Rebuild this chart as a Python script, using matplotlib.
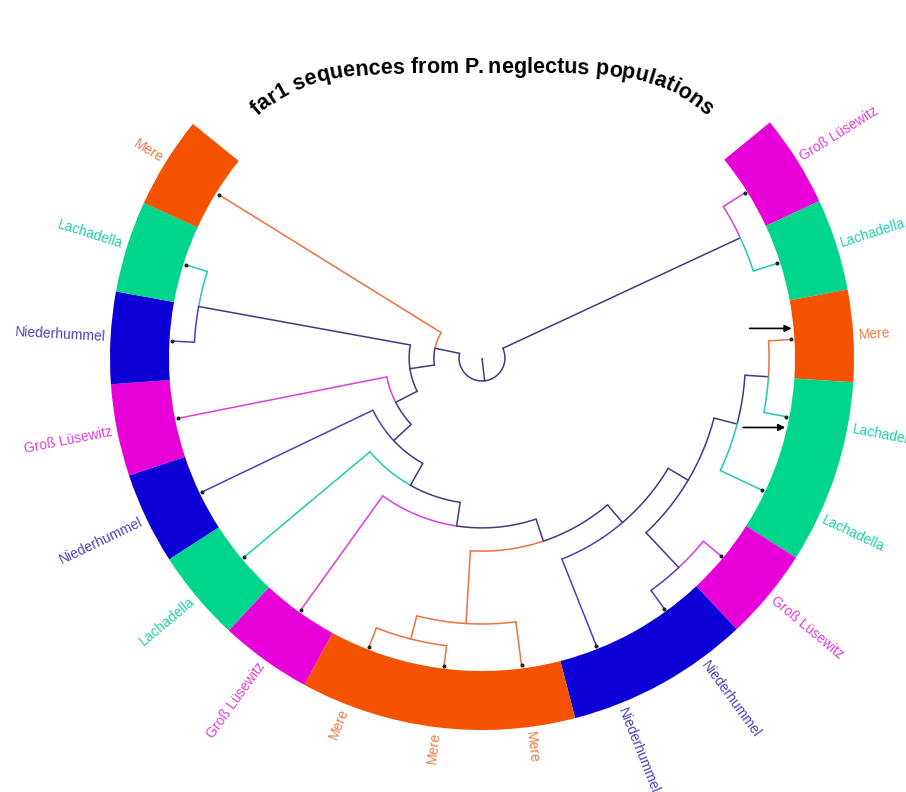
import numpy as np
import matplotlib
matplotlib.use("Agg")
import matplotlib.pyplot as plt
from matplotlib.patches import Wedge

# 樹のデータ
title = "far1 sequences from P. neglectus populations"

leaf_groups = ["Groß Lüsewitz", "Lachadella", "Mere", "Lachadella", "Lachadella",
               "Groß Lüsewitz", "Niederhummel", "Niederhummel", "Mere", "Mere",
               "Mere", "Groß Lüsewitz", "Lachadella", "Niederhummel", "Groß Lüsewitz",
               "Niederhummel", "Lachadella", "Mere"]

# node -> (children, height as fraction of tip height); ints are leaf indices
nodes = {
    "root": (["A", "B"], 0.074),
    "A": ([0, 1], 0.919),
    "B": ([17, "C"], 0.155),
    "C": (["C1", "C2"], 0.235),
    "C1": ([16, 15], 0.929),
    "C2": ([14, "C3"], 0.313),
    "C3": ([13, "C4"], 0.390),
    "C4": ([12, "C5"], 0.471),
    "C5": ([11, "C6"], 0.548),
    "C6": (["O2", "N1"], 0.623),
    "O2": (["O1", 8], 0.858),
    "O1": ([10, 9], 0.935),
    "N1": (["N2", 7], 0.698),
    "N2": (["N4", "N3"], 0.773),
    "N3": ([5, 6], 0.927),
    "N4": (["N5", 4], 0.850),
    "N5": ([2, 3], 0.926),
}
marked_leaves = [2, 3]

ring_colors = {"Mere": "#f55200", "Lachadella": "#00d68b",
               "Niederhummel": "#0c00d6", "Groß Lüsewitz": "#e800d8"}
label_colors = {"Mere": "#f07a45", "Lachadella": "#1fcfa8",
                "Niederhummel": "#4b44b8", "Groß Lüsewitz": "#e040d8"}
edge_colors = {"Mere": "#ef7040", "Lachadella": "#20cbb0",
               "Niederhummel": "#4b3fbf", "Groß Lüsewitz": "#e03ce0"}
navy = "#3d3d7d"

# レイアウト (px 単位)
W, H = 906, 792
CX, CY = 482, 358
R_TIP, R_IN, R_OUT, R_LAB = 310, 313, 372, 377
THETA0, STEP = 39.3, 14.35


def ang(y):
    return THETA0 - (y + 0.5) * STEP


def ypos(n):
    if isinstance(n, int):
        return n
    return np.mean([ypos(c) for c in nodes[n][0]])


def leaves_of(n):
    if isinstance(n, int):
        return [n]
    out = []
    for c in nodes[n][0]:
        out += leaves_of(c)
    return out


def color_of(n):
    g = set(leaf_groups[i] for i in leaves_of(n))
    if len(g) == 1:
        return edge_colors[g.pop()]
    return navy


def radius(n):
    if isinstance(n, int):
        return R_TIP
    return nodes[n][1] * R_TIP


fig = plt.figure(figsize=(W / 100, H / 100), dpi=100)
ax = fig.add_axes([0, 0, 1, 1])
ax.set_xlim(-CX, W - CX)
ax.set_ylim(CY - H, CY)
ax.axis("off")

LW = 1.1


def draw(n, parent_r):
    a = np.radians(ang(ypos(n)))
    r = radius(n)
    ax.plot([parent_r * np.cos(a), r * np.cos(a)], [parent_r * np.sin(a), r * np.sin(a)],
            color=color_of(n), lw=LW, solid_capstyle="butt")
    if isinstance(n, int):
        ax.plot(r * np.cos(a), r * np.sin(a), "o", ms=1.9, color="#222222")
        return
    for c in nodes[n][0]:
        t = np.radians(np.linspace(ang(ypos(n)), ang(ypos(c)), 80))
        ax.plot(r * np.cos(t), r * np.sin(t), color=color_of(c), lw=LW)
        draw(c, r)


draw("root", 0)

# 外側のリング
i = 0
while i < len(leaf_groups):
    j = i
    while j + 1 < len(leaf_groups) and leaf_groups[j + 1] == leaf_groups[i]:
        j += 1
    t1 = THETA0 - (j + 1) * STEP
    t2 = THETA0 - i * STEP
    ax.add_patch(Wedge((0, 0), R_OUT, t1, t2, width=R_OUT - R_IN,
                       facecolor=ring_colors[leaf_groups[i]], edgecolor="none"))
    i = j + 1

# ラベル
for k, g in enumerate(leaf_groups):
    a = (ang(k) + 180) % 360 - 180
    x, y = R_LAB * np.cos(np.radians(a)), R_LAB * np.sin(np.radians(a))
    if np.cos(np.radians(a)) >= 0:
        rot, ha = a, "left"
    else:
        rot, ha = a + 180, "right"
    ax.text(x, y, g, rotation=rot, ha=ha, va="center", rotation_mode="anchor",
            color=label_colors[g], fontsize=10, family="Liberation Sans")

# 矢印
for k, off in zip(marked_leaves, [2.0, -1.9]):
    a = np.radians(ang(k) + off)
    tx, ty = R_IN * np.cos(a) - 2, R_IN * np.sin(a)
    ax.annotate("", xy=(tx, ty), xytext=(tx - 42, ty),
                arrowprops=dict(arrowstyle="-|>", color="black", lw=1.2,
                                mutation_scale=10, shrinkA=0, shrinkB=0))

# タイトル (曲線に沿って一文字ずつ)
fig.canvas.draw()
renderer = fig.canvas.get_renderer()
tprop = dict(family="Liberation Sans", weight="bold", fontsize=15.5)


def tw(s):
    t = ax.text(0, 0, s, **tprop)
    w = t.get_window_extent(renderer).width
    t.remove()
    return w


bar = tw("|")
lefts = [tw(title[:k] + "|") - bar for k in range(len(title) + 1)]
total = lefts[-1]

px = np.linspace(-320, 320, 6401)
py = CY - (73 + 35 * (np.abs(px) / 215) ** 4.8)
seg = np.hypot(np.diff(px), np.diff(py))
arc = np.concatenate([[0], np.cumsum(seg)])
arc -= np.interp(0, px, arc)
for k, ch in enumerate(title):
    s = (lefts[k] + lefts[k + 1]) / 2 - total / 2
    x = np.interp(s, arc, px)
    y = np.interp(s, arc, py)
    x2 = np.interp(s + 1, arc, px)
    y2 = np.interp(s + 1, arc, py)
    rot = np.degrees(np.arctan2(y2 - y, x2 - x))
    ax.text(x, y, ch, rotation=rot, ha="center", va="baseline",
            rotation_mode="anchor", **tprop)

fig.savefig("out.png", dpi=100)
